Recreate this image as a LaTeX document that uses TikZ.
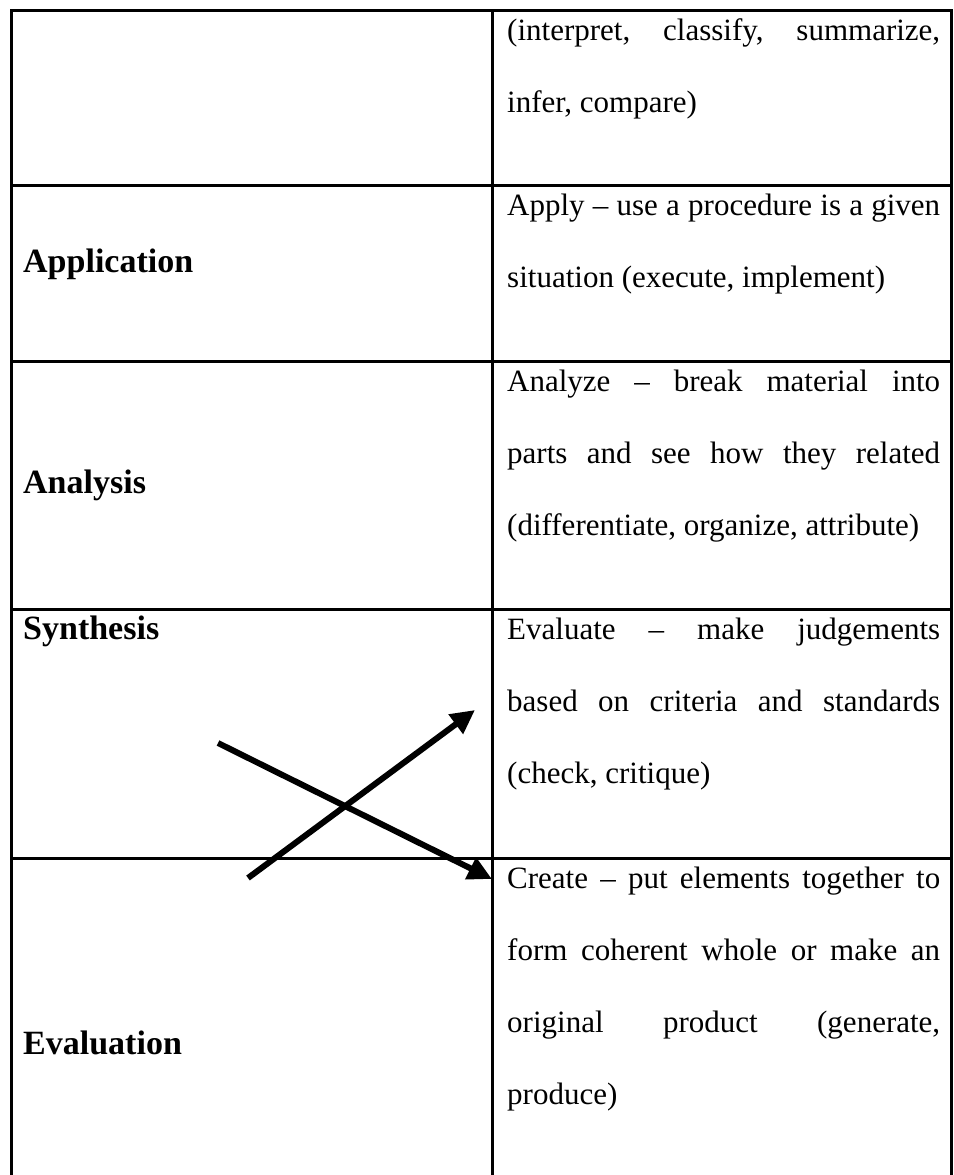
\documentclass[tikz,border=0pt]{standalone}
\usepackage{fontspec}
\setmainfont{Liberation Serif}
\usetikzlibrary{arrows.meta}
\begin{document}
\begin{tikzpicture}[x=1pt,y=-1pt,
  rule/.style={line width=3pt, line cap=rect},
  body/.style={anchor=base west, inner sep=0pt, font=\fontsize{31}{31}\selectfont},
  rowlabel/.style={anchor=base west, inner sep=0pt, font=\fontsize{34}{34}\selectfont\bfseries},
  bigarrow/.style={line width=6pt, -{Triangle[length=24pt,width=23pt]}}]
\useasboundingbox (0,0) rectangle (953,1175);
% table rules
\draw[rule] (11,1175) -- (11,10) -- (951,10) -- (951,1175);
\draw[line width=2.5pt] (492.5,10) -- (492.5,1175);
\foreach \yy in {185,361,609,858}{\draw[rule] (11,\yy) -- (951,\yy);}
% left labels
\node[rowlabel] (lapp) at (23,272) {Application};
\node[rowlabel] (lana) at (23,493) {Analysis};
\node[rowlabel] (lsyn) at (23,639) {Synthesis};
\node[rowlabel] (leva) at (23,1054) {Evaluation};
% right column texts
\node[body] (t11) at (507,40)  {\makebox[433pt][s]{(interpret, classify, summarize,}};
\node[body] (t12) at (507,112) {infer, compare)};
\node[body] (t21) at (507,215) {\makebox[433pt][s]{Apply – use a procedure is a given}};
\node[body] (t22) at (507,287) {situation (execute, implement)};
\node[body] (t31) at (507,391) {\makebox[433pt][s]{Analyze – break material into}};
\node[body] (t32) at (507,463) {\makebox[433pt][s]{parts and see how they related}};
\node[body] (t33) at (507,535) {(differentiate, organize, attribute)};
\node[body] (t41) at (507,639) {\makebox[433pt][s]{Evaluate – make judgements}};
\node[body] (t42) at (507,711) {\makebox[433pt][s]{based on criteria and standards}};
\node[body] (t43) at (507,783) {(check, critique)};
\node[body] (t51) at (507,888) {\makebox[433pt][s]{Create – put elements together to}};
\node[body] (t52) at (507,960) {\makebox[433pt][s]{form coherent whole or make an}};
\node[body] (t53) at (507,1032) {\makebox[433pt][s]{original product (generate,}};
\node[body] (t54) at (507,1104) {produce)};
% crossing arrows
\coordinate (upstart) at (248,878);
\coordinate (upend) at (475,710);
\coordinate (downstart) at (218,743);
\coordinate (downend) at (492,879);
\draw[bigarrow] (upstart) -- (upend);
\draw[bigarrow] (downstart) -- (downend);
\end{tikzpicture}
\end{document}
